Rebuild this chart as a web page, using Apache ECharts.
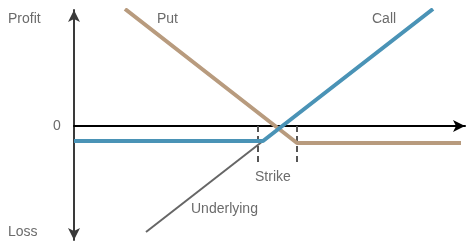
<!DOCTYPE html>
<html><head><meta charset="utf-8">
<script src="https://cdn.jsdelivr.net/npm/echarts@6/dist/echarts.min.js"></script>
<style>html,body{margin:0;padding:0;background:#fff}#c{width:474px;height:251px}</style>
</head><body><div id="c"></div>
<script>
// price (x) vs profit (y), arbitrary units, zero profit at y=0
const callLine = [[0, -15], [189, -15], [359, 117]];
const putLine = [[51, 117], [223, -17], [387, -17]];
const underlyingLine = [[72, -106], [189, -15]];
const strikeLow = [[184, 0], [184, -37]];
const strikeHigh = [[223, 0], [223, -37]];
const textColor = '#6b6b6b';
const chart = echarts.init(document.getElementById('c'), null, {renderer: 'canvas'});
const txt = (t, x, y, align) => ({type: 'text', x: x, y: y, style: {text: t, fill: textColor, font: '14px "Liberation Sans", Arial, sans-serif', align: align || 'left', verticalAlign: 'middle'}});
chart.setOption({
  animation: false,
  grid: {left: 74, right: 9, top: 10, bottom: 11},
  xAxis: {type: 'value', min: 0, max: 391, axisLine: {onZero: true, lineStyle: {color: '#000', width: 2}, symbol: ['none', 'arrow'], symbolSize: [9, 12]}, axisTick: {show: false}, axisLabel: {show: false}, splitLine: {show: false}},
  yAxis: {type: 'value', min: -114, max: 116, axisLine: {show: true, onZero: false, lineStyle: {color: '#3a3a3a', width: 2}, symbol: ['arrow', 'arrow'], symbolSize: [9, 12]}, axisTick: {show: false}, axisLabel: {show: false}, splitLine: {show: false}},
  series: [
    {type: 'line', data: underlyingLine, symbol: 'none', lineStyle: {color: '#666', width: 2}, z: 1},
    {type: 'line', data: strikeLow, symbol: 'none', lineStyle: {color: '#555', width: 2, type: [6, 4]}, z: 1},
    {type: 'line', data: strikeHigh, symbol: 'none', lineStyle: {color: '#555', width: 2, type: [6, 4]}, z: 1},
    {type: 'line', data: putLine, symbol: 'none', lineStyle: {color: '#b89b7e', width: 4}, z: 2},
    {type: 'line', data: callLine, symbol: 'none', lineStyle: {color: '#4a93b6', width: 4}, z: 3}
  ],
  graphic: [
    txt('Profit', 8, 19),
    txt('0', 57, 126, 'center'),
    txt('Loss', 8, 232),
    txt('Put', 157, 19),
    txt('Call', 372, 19),
    txt('Underlying', 191, 209),
    txt('Strike', 255, 177)
  ]
});
</script></body></html>
